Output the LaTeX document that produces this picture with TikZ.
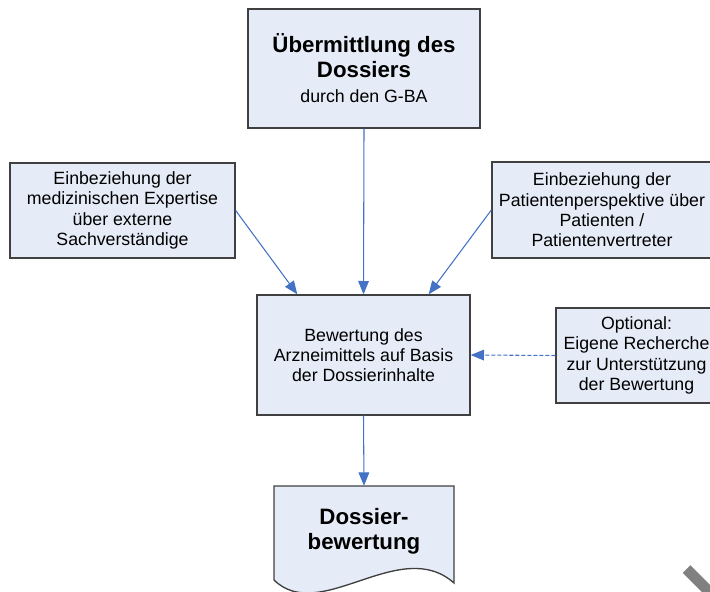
\documentclass[tikz,border=0pt]{standalone}
\usepackage{fontspec}
\setmainfont{Liberation Sans}
\usetikzlibrary{arrows.meta,positioning}
\definecolor{boxfill}{RGB}{230,236,247}
\definecolor{linkblue}{RGB}{68,114,196}
\newcommand{\normtext}{\fontsize{13.3}{15.2}\selectfont\mdseries}
\newcommand{\bigtext}{\fontsize{16.7}{18.8}\selectfont\bfseries}
\begin{document}
\begin{tikzpicture}[x=0.75pt,y=-0.75pt,
	  box/.style={draw=black!75,line width=1pt,fill=boxfill,align=center,inner sep=0pt,font=\normtext},
	  link/.style={draw=linkblue,line width=0.8pt,-{Triangle[length=10pt,width=8pt]}}]
	  \useasboundingbox (0,0) rectangle (710,592);
	  \clip (0,0) rectangle (710,592);
	  % boxes
	  \node[box,font=\bigtext,minimum width=174pt,minimum height=89.25pt] (dossier) at (364,68.5)
	    {Übermittlung des\\Dossiers\\ \normtext durch den G-BA};
	  \node[box,minimum width=168.75pt,minimum height=71.25pt] (expertise) at (122.5,210.5)
	    {Einbeziehung der\\medizinischen Expertise\\über externe\\Sachverständige};
	  \node[box,minimum width=165pt,minimum height=72pt] (patienten) at (602,210)
	    {Einbeziehung der\\Patientenperspektive über\\Patienten /\\Patientenvertreter};
	  \node[box,minimum width=159.75pt,minimum height=90pt] (bewertung) at (363.5,355)
	    {Bewertung des\\Arzneimittels auf Basis\\der Dossierinhalte};
	  \node[box,minimum width=120.75pt,minimum height=71.25pt] (recherche) at (636.5,355.5)
	    {Optional:\\Eigene Recherche\\zur Unterstützung\\der Bewertung};
	  % document shape
	  \filldraw[draw=black!75,line width=1pt,fill=boxfill] (274,486) -- (454,486) -- (454,583)
	    .. controls (400,535) and (320,625) .. (274,580) -- cycle;
	  \node[align=center,font=\bigtext,inner sep=0pt,minimum width=135pt,minimum height=67.5pt] (bericht) at (364,531)
	    {Dossier-\\bewertung};
	  % connectors
	  \draw[link] (dossier.south) -- (bewertung.north);
	  \draw[link] (expertise.east) -- ([xshift=30.75pt]bewertung.north west);
	  \draw[link] (patienten.west) -- ([xshift=-31.5pt]bewertung.north east);
	  \draw[link,dash pattern=on 3pt off 1.5pt] (recherche.west) -- (bewertung.east);
	  \draw[link] (bewertung.south) -- (bericht.north);
	  \draw[gray,line width=8pt] (686.5,569) -- (720,602.5);
	\end{tikzpicture}
\end{document}
